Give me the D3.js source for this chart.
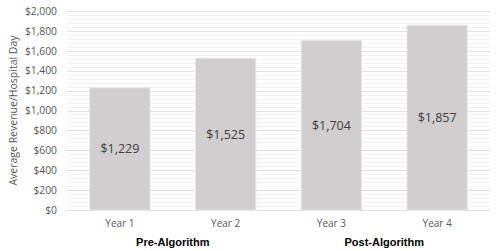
<!DOCTYPE html>
<html><head><meta charset="utf-8">
<script src="https://cdn.jsdelivr.net/npm/d3@7"></script>
<style>body{margin:0;background:#fff}svg{display:block}</style>
</head><body><svg id="c" width="500" height="251"></svg>
<script>
const categories = ["Year 1","Year 2","Year 3","Year 4"];
const values = [1229,1525,1704,1857];
const groups = [{label:"Pre-Algorithm", members:["Year 1","Year 2"]},{label:"Post-Algorithm", members:["Year 3","Year 4"]}];
const yTicks = [0,200,400,600,800,1000,1200,1400,1600,1800,2000];
const yTitle = "Average Revenue/Hospital Day";

const svg = d3.select("#c");
const m = {l:67, r:10, t:11, b:41};
const W = 500, H = 251;
const x = d3.scaleBand().domain(categories).range([m.l, W-m.r]).paddingInner(0.43).paddingOuter(0.215);
const y = d3.scaleLinear().domain([0,2000]).range([H-m.b, m.t]);
const fmt = v => "$" + d3.format(",")(v);
const font = "'Open Sans', sans-serif";

// minor grid
const minor = d3.range(0, 2001, 40).filter(v => v % 200 !== 0);
svg.append("g").selectAll("line").data(minor).join("line")
  .attr("x1", m.l).attr("x2", W-m.r)
  .attr("y1", d => Math.round(y(d))+0.5).attr("y2", d => Math.round(y(d))+0.5)
  .attr("stroke", "#f2f2f2").attr("stroke-width", 1);
// major grid
svg.append("g").selectAll("line").data(yTicks).join("line")
  .attr("x1", m.l).attr("x2", W-m.r)
  .attr("y1", d => Math.round(y(d))+0.5).attr("y2", d => Math.round(y(d))+0.5)
  .attr("stroke", "#e0e0e0").attr("stroke-width", 1);

// y axis
const ya = svg.append("g").attr("transform", `translate(${m.l-10},0)`)
  .call(d3.axisLeft(y).tickValues(yTicks).tickFormat(fmt).tickSize(0).tickPadding(0));
ya.select(".domain").remove();
ya.selectAll("text").attr("font-family", font).attr("font-size", 10.3).attr("fill", "#595959");

// bars
svg.append("g").selectAll("rect").data(values).join("rect")
  .attr("x", (d,i) => x(categories[i])).attr("width", x.bandwidth())
  .attr("y", d => y(d)).attr("height", d => y(0) - y(d))
  .attr("fill", "#d0cece").attr("stroke", "#e6e6e6").attr("stroke-width", 1);

// value labels
svg.append("g").selectAll("text").data(values).join("text")
  .attr("x", (d,i) => x(categories[i]) + x.bandwidth()/2)
  .attr("y", d => (y(d)+y(0))/2)
  .attr("dy", "0.35em").attr("text-anchor", "middle")
  .attr("font-family", font).attr("font-size", 12.5).attr("fill", "#404040")
  .text(fmt);

// x axis
const xa = svg.append("g").attr("transform", `translate(0,${y(0)})`)
  .call(d3.axisBottom(x).tickSize(0).tickPadding(10));
xa.select(".domain").remove();
xa.selectAll("text").attr("font-family", font).attr("font-size", 10).attr("fill", "#595959");

// group labels
svg.append("g").selectAll("text").data(groups).join("text")
  .attr("x", g => { const a = x(g.members[0]), b = x(g.members[g.members.length-1]) + x.bandwidth(); return (a+b)/2; })
  .attr("y", 246).attr("text-anchor", "middle")
  .attr("font-family", "'Liberation Sans', Arial, sans-serif").attr("font-weight", "bold")
  .attr("font-size", 11).attr("fill", "#000")
  .text(g => g.label);

// y title
svg.append("text").attr("transform", `translate(17,${(y(0)+y(2000))/2}) rotate(-90)`)
  .attr("text-anchor", "middle").attr("font-family", font).attr("font-size", 10.5).attr("fill", "#595959")
  .text(yTitle);
</script></body></html>
